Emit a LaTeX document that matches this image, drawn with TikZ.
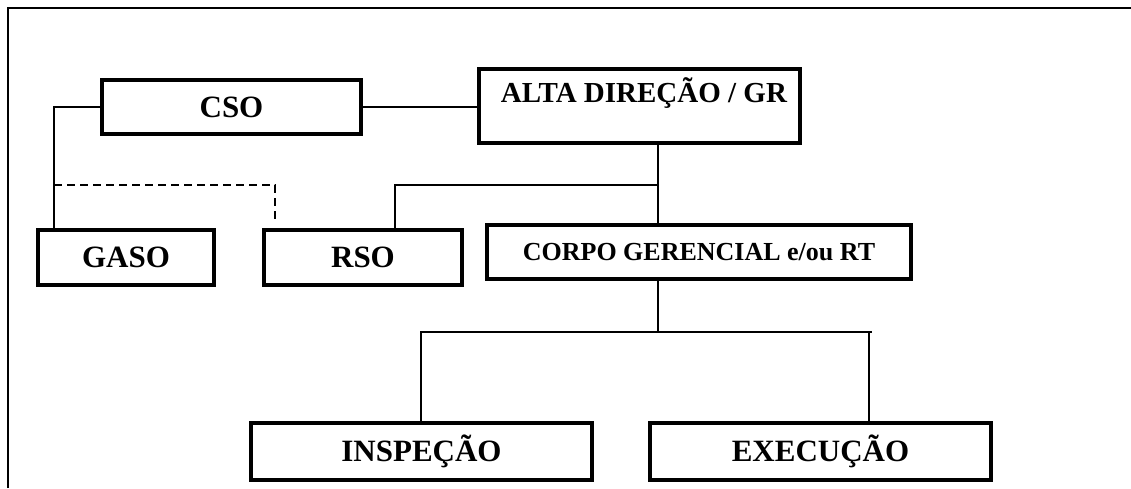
\documentclass[tikz,border=0pt]{standalone}
\usepackage{fontspec}
\setmainfont{Liberation Serif}
\usepackage{tikz}
\usetikzlibrary{positioning}

\tikzset{
  orgbox/.style={draw, line width=2pt, rectangle, inner sep=0pt, outer sep=0pt, font=\bfseries\fontsize{15.5}{18}\selectfont},
  link/.style={line width=0.7pt},
  dashlink/.style={line width=0.7pt, dash pattern=on 4pt off 2.5pt}
}

\begin{document}
\begin{tikzpicture}[x=0.5pt, y=-0.5pt]
\useasboundingbox (0,0) rectangle (1131,488);
%%%%% Frame %%%%%
\draw[line width=1pt] (8,488)--(8,8)--(1131,8);
%%%%% Boxes %%%%%
\node[orgbox, minimum width=129.5pt, minimum height=27pt] (cso) at (231.5,107) {CSO};
\node[orgbox, minimum width=160.5pt, minimum height=37pt] (alta) at (639.5,106) {};
\node[font=\bfseries\fontsize{14.5}{17}\selectfont] (altatxt) at (644,93) {ALTA DIREÇÃO / GR};
\node[orgbox, minimum width=88pt, minimum height=27.5pt] (gaso) at (126,257.5) {GASO};
\node[orgbox, minimum width=99pt, minimum height=27.5pt] (rso) at (363,257.5) {RSO};
\node[orgbox, minimum width=212pt, minimum height=27pt, font=\bfseries\fontsize{13}{15}\selectfont] (corpo) at (699,252) {CORPO GERENCIAL e/ou RT};
\node[orgbox, minimum width=170.5pt, minimum height=28.5pt] (insp) at (421.5,451.5) {INSPEÇÃO};
\node[orgbox, minimum width=170.5pt, minimum height=28.5pt] (exec) at (820.5,451.5) {EXECUÇÃO};
%%%%% Junctions %%%%%
\coordinate (top) at (658,185);
\coordinate (csoleg) at (54,185);
\coordinate (bot) at (658,332);
%%%%% Links %%%%%
\draw[link] (cso.east) -- (alta.west |- cso.east);
\draw[link] (cso.west) -| (gaso.north -| csoleg);
\draw[link] (alta.south -| top) -- (corpo.north -| top);
\draw[link] (top) -| (rso.north -| 395,0);
\draw[dashlink] (csoleg) -| (275,222);
\draw[link] (corpo.south -| bot) -- (bot);
\draw[link] (insp.north -| 421,0) -- (421,332) -- (872,332);
\draw[link] (869,332) -- (exec.north -| 869,0);
\end{tikzpicture}
\end{document}
